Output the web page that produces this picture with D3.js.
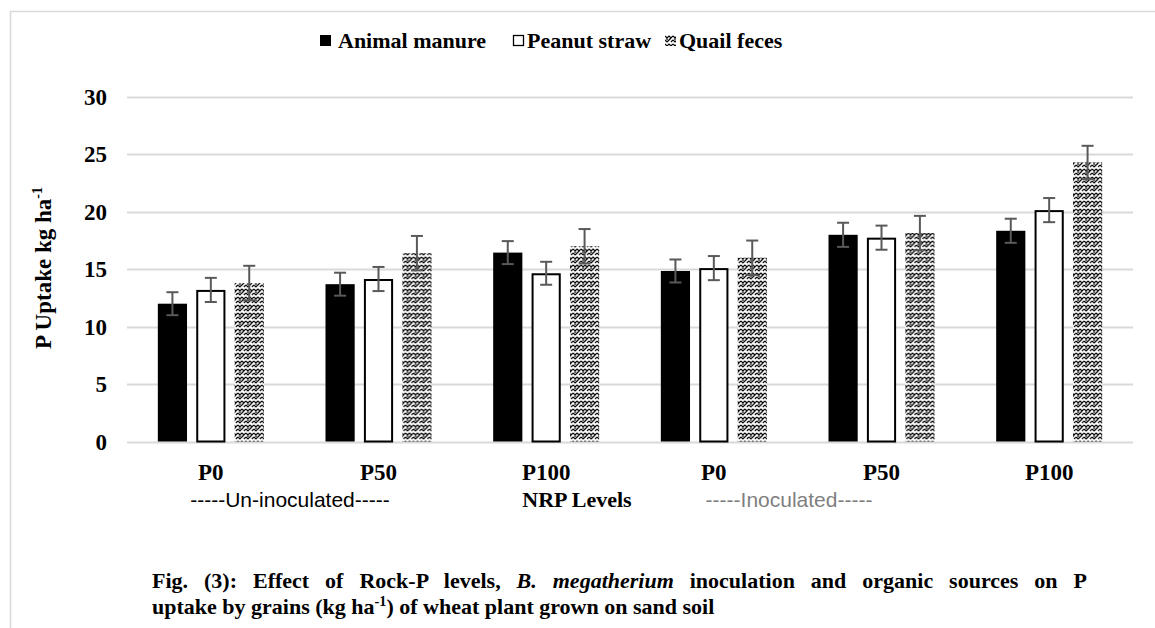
<!DOCTYPE html>
<html>
<head>
<meta charset="utf-8">
<script src="https://cdn.jsdelivr.net/npm/d3@7"></script>
<style>
  body { margin: 0; background: #fff; }
  svg { display: block; }
</style>
</head>
<body>
<svg id="chart" width="1155" height="628"></svg>
<script>
// data
var levels = ["P0", "P50", "P100", "P0", "P50", "P100"];
var seriesNames = ["Animal manure", "Peanut straw", "Quail feces"];
var manure = [12.0, 13.7, 16.45, 14.85, 18.0, 18.35];
var straw = [13.2, 14.15, 14.65, 15.1, 17.75, 20.15];
var quail = [13.8, 16.4, 17.0, 16.0, 18.15, 24.3];
var manureErr = [1.0, 1.0, 1.0, 1.0, 1.05, 1.05];
var strawErr = [1.05, 1.05, 1.0, 1.05, 1.05, 1.05];
var quailErr = [1.5, 1.5, 1.5, 1.5, 1.5, 1.45];
var yTicks = [0, 5, 10, 15, 20, 25, 30];

var SERIF = "'Liberation Serif', 'Times New Roman', 'DejaVu Serif', serif";
var SANS = "'Liberation Sans', Arial, sans-serif";

var svg = d3.select("#chart");
var width = 1155, height = 628;

// frame around the figure
svg.append("path")
  .attr("d", "M10.5," + height + "V11.5H" + width)
  .attr("fill", "none")
  .attr("stroke", "#d9d9d9")
  .attr("stroke-width", 1.5);

// zigzag fill for quail feces
var defs = svg.append("defs");
var pat = defs.append("pattern")
  .attr("id", "zig")
  .attr("patternUnits", "userSpaceOnUse")
  .attr("width", 8).attr("height", 8);
pat.append("rect").attr("width", 8).attr("height", 8).attr("fill", "#fff");
pat.append("path")
  .attr("d", "M0,1L2,3L4,1L6,3L8,1M0,5L2,7L4,5M4,5L6,3M6,7L8,5M2,3L2,5")
  .attr("fill", "none")
  .attr("stroke", "#000")
  .attr("stroke-width", 1.2);

var x0 = d3.scaleBand().domain(d3.range(levels.length)).range([127, 1133]);
var x1 = d3.scaleBand().domain([0, 1, 2]).range([0, 106]).paddingInner(0.24);
var y = d3.scaleLinear().domain([0, 30]).range([441.5, 97]);

var groupOffset = (x0.bandwidth() - 106) / 2;

// gridlines
svg.append("g")
  .selectAll("line")
  .data(yTicks)
  .join("line")
  .attr("x1", 127).attr("x2", 1133)
  .attr("y1", function (d) { return Math.round(y(d)) + 0.5; })
  .attr("y2", function (d) { return Math.round(y(d)) + 0.5; })
  .attr("stroke", "#d9d9d9")
  .attr("stroke-width", 2);

// y tick labels
svg.append("g")
  .selectAll("text")
  .data(yTicks)
  .join("text")
  .attr("font-family", SERIF)
  .attr("font-weight", "bold")
  .attr("x", 107)
  .attr("y", function (d) { return y(d) + 8; })
  .attr("text-anchor", "end")
  .attr("font-size", 23)
  .text(function (d) { return d; });

var series = [
  { vals: manure, err: manureErr, fill: "#000", stroke: "none" },
  { vals: straw, err: strawErr, fill: "#fff", stroke: "#000" },
  { vals: quail, err: quailErr, fill: "url(#zig)", stroke: "none" }
];

var groups = svg.append("g")
  .selectAll("g")
  .data(levels)
  .join("g")
  .attr("transform", function (d, i) { return "translate(" + (x0(i) + groupOffset) + ",0)"; });

groups.each(function (lev, i) {
  var g = d3.select(this);
  series.forEach(function (s, k) {
    var v = s.vals[i];
    var inset = s.stroke === "none" ? 0 : 1;
    g.append("rect")
      .attr("x", x1(k) + inset)
      .attr("y", y(v) + inset)
      .attr("width", x1.bandwidth() - 2 * inset)
      .attr("height", y(0) - y(v) - inset)
      .attr("fill", s.fill)
      .attr("stroke", s.stroke)
      .attr("stroke-width", 2);
  });
  // error bars
  series.forEach(function (s, k) {
    var v = s.vals[i], e = s.err[i];
    var cx = x1(k) + x1.bandwidth() / 2;
    var eb = g.append("g").attr("stroke", "#595959").attr("stroke-width", 2);
    eb.append("line").attr("x1", cx).attr("x2", cx).attr("y1", y(v + e)).attr("y2", y(v - e));
    eb.append("line").attr("x1", cx - 6).attr("x2", cx + 6).attr("y1", y(v + e)).attr("y2", y(v + e));
    eb.append("line").attr("x1", cx - 6).attr("x2", cx + 6).attr("y1", y(v - e)).attr("y2", y(v - e));
  });
});

// category labels
svg.append("g")
  .selectAll("text")
  .data(levels)
  .join("text")
  .attr("font-family", SERIF)
  .attr("font-weight", "bold")
  .attr("x", function (d, i) { return x0(i) + x0.bandwidth() / 2; })
  .attr("y", 480)
  .attr("text-anchor", "middle")
  .attr("font-size", 23)
  .text(function (d) { return d; });

svg.append("text")
  .attr("x", 290).attr("y", 507)
  .attr("text-anchor", "middle")
  .attr("font-family", SANS)
  .attr("font-size", 21)
  .attr("fill", "#000")
  .text("-----Un-inoculated-----");

svg.append("text")
  .attr("font-family", SERIF)
  .attr("font-weight", "bold")
  .attr("x", 577).attr("y", 507)
  .attr("text-anchor", "middle")
  .attr("font-size", 22)
  .text("NRP Levels");

svg.append("text")
  .attr("x", 789).attr("y", 507)
  .attr("text-anchor", "middle")
  .attr("font-family", SANS)
  .attr("font-size", 21)
  .attr("fill", "#7f7f7f")
  .text("-----Inoculated-----");

// y axis title
var yt = svg.append("text")
  .attr("font-family", SERIF)
  .attr("font-weight", "bold")
  .attr("transform", "translate(51,268) rotate(-90)")
  .attr("text-anchor", "middle")
  .attr("font-size", 23);
yt.append("tspan").text("P Uptake kg ha");
yt.append("tspan").attr("font-size", 14).attr("dy", -9).text("-1");

// legend
var legendX = [320, 513, 665];
var legendTextX = [18, 14, 14];
var leg = svg.append("g")
  .selectAll("g")
  .data(seriesNames)
  .join("g")
  .attr("transform", function (d, i) { return "translate(" + legendX[i] + ",35)"; });
leg.append("rect")
  .attr("x", function (d, i) { return i === 1 ? 0.5 : 0; })
  .attr("y", function (d, i) { return i === 1 ? 0.5 : 0; })
  .attr("width", function (d, i) { return i === 1 ? 10 : 11; })
  .attr("height", function (d, i) { return i === 1 ? 10 : 11; })
  .attr("fill", function (d, i) { return series[i].fill; })
  .attr("stroke", function (d, i) { return i === 1 ? "#000" : "none"; })
  .attr("stroke-width", 1.3);
leg.append("text")
  .attr("font-family", SERIF)
  .attr("font-weight", "bold")
  .attr("x", function (d, i) { return legendTextX[i]; })
  .attr("y", 13)
  .attr("font-size", 22)
  .text(function (d) { return d; });

// caption, first line justified between 152 and 1087
var cap1 = svg.append("text")
  .attr("font-family", SERIF)
  .attr("font-weight", "bold")
  .attr("x", 152).attr("y", 588)
  .attr("font-size", 20);
cap1.append("tspan").text("Fig. (3): Effect of Rock-P levels, ");
cap1.append("tspan").attr("font-style", "italic").text("B. megatherium");
cap1.append("tspan").text(" inoculation and organic sources on P");
var natural = cap1.node().getComputedTextLength();
var capSize = Math.min(22, 20 * (935 - 13 * 5) / natural);
cap1.attr("font-size", capSize);
natural = cap1.node().getComputedTextLength();
cap1.attr("word-spacing", Math.max(0, (935 - natural) / 13));

var cap2 = svg.append("text")
  .attr("font-family", SERIF)
  .attr("font-weight", "bold")
  .attr("x", 152).attr("y", 614)
  .attr("font-size", capSize);
cap2.append("tspan").text("uptake by grains (kg ha");
cap2.append("tspan").attr("font-size", capSize * 0.65).attr("dy", -8).text("-1");
cap2.append("tspan").attr("dy", 8).text(") of wheat plant grown on sand soil");
</script>
</body>
</html>
